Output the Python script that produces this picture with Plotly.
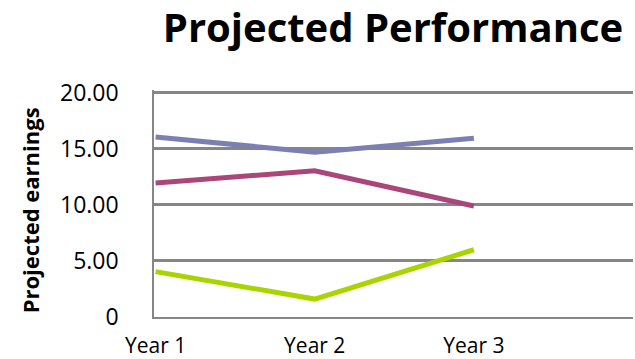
import plotly.graph_objects as go

# Projected earnings per series across the three years
years = ["Year 1", "Year 2", "Year 3"]
series_a = [16.05, 14.7, 15.95]
series_b = [11.95, 13.05, 9.9]
series_c = [4.05, 1.6, 6.0]

y_ticks = [0, 5, 10, 15, 20]
y_tick_text = ["0", "5.00", "10.00", "15.00", "20.00"]

colors = ["#7C7FB2", "#AA4679", "#A8D400"]
font_family = "Open Sans, DejaVu Sans, sans-serif"

x_pos = list(range(len(years)))

fig = go.Figure()
for vals, col in zip([series_a, series_b, series_c], colors):
    fig.add_trace(go.Scatter(
        x=x_pos, y=vals, mode="lines",
        line=dict(color=col, width=5),
        showlegend=False, hoverinfo="skip",
    ))

fig.update_layout(
    width=635, height=359,
    margin=dict(l=154, r=2, t=90, b=42, autoexpand=False),
    paper_bgcolor="white", plot_bgcolor="white",
    font=dict(family=font_family, color="black"),
    title=dict(
        text="<b>Projected Performance</b>",
        font=dict(size=40, family=font_family, color="black"),
        x=393 / 635, xanchor="center",
        y=1 - 28 / 359, yanchor="middle",
    ),
    xaxis=dict(
        range=[-0.01, 3.0],
        tickvals=x_pos, ticktext=years,
        showgrid=False, zeroline=False,
        showline=True, linecolor="#868686", linewidth=2,
        ticks="", ticklabelstandoff=9,
        tickfont=dict(size=21, family=font_family, color="black"),
        automargin=False,
        fixedrange=True,
    ),
    yaxis=dict(
        range=[0, 20.25],
        tickvals=y_ticks, ticktext=y_tick_text,
        showgrid=True, gridcolor="#868686", gridwidth=2.5,
        zeroline=False,
        showline=True, linecolor="#868686", linewidth=1.5,
        ticks="", ticklabelstandoff=29,
        tickfont=dict(size=23, family=font_family, color="black"),
        automargin=False,
        fixedrange=True,
    ),
    annotations=[dict(
        text="<b>Projected earnings</b>",
        textangle=-90,
        xref="paper", yref="paper",
        x=(30 - 154) / 479, y=0.47,
        xanchor="center", yanchor="middle",
        showarrow=False,
        font=dict(size=22, family=font_family, color="black"),
    )],
)

fig.write_html("out.html")
